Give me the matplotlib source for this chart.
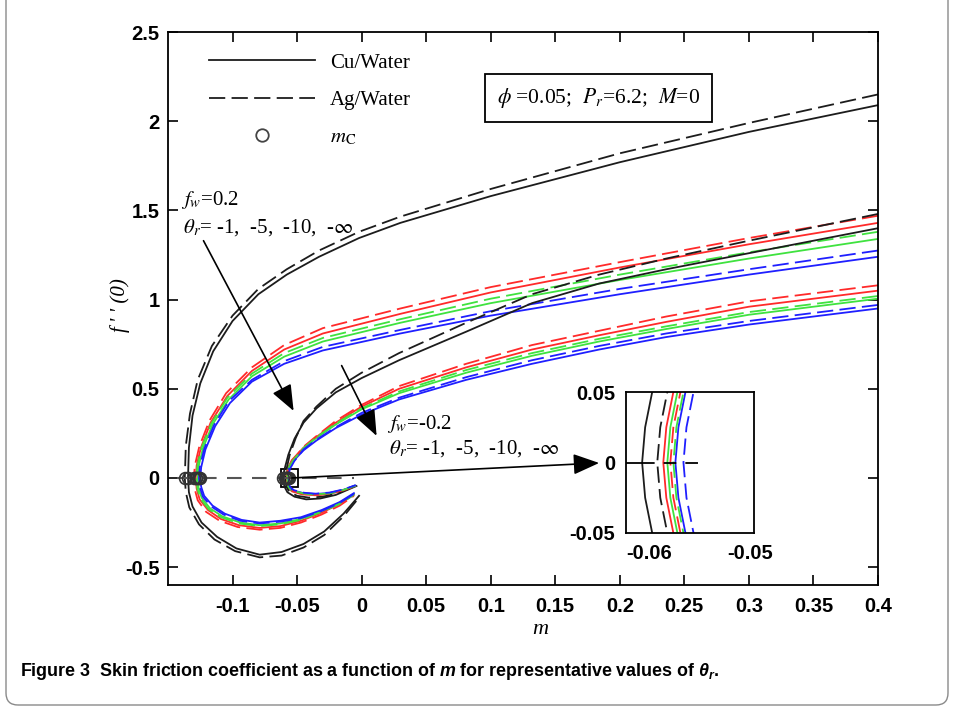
import numpy as np
import matplotlib
matplotlib.use("Agg")
import matplotlib.pyplot as plt
from matplotlib import font_manager
from matplotlib.lines import Line2D
from matplotlib.patches import Rectangle, FancyBboxPatch

# Datos: f''(0) frente a m
# Grupo A: fw = 0.2 (curvas exteriores), Grupo B: fw = -0.2 (curvas interiores)

# --- Grupo A, Cu/Water (linea continua) ---
cu_a_t1_m = [0.4, 0.3, 0.2, 0.1, 0.03, -0.002, -0.033, -0.058, -0.08, -0.1, -0.115, -0.125, -0.131, -0.1338,
             -0.1345, -0.1338, -0.131, -0.124, -0.112, -0.097, -0.079, -0.062, -0.045, -0.029, -0.014, -0.002]
cu_a_t1_f = [2.09, 1.94, 1.77, 1.58, 1.43, 1.345, 1.24, 1.14, 1.03, 0.88, 0.71, 0.53, 0.35, 0.17,
             0.0, -0.08, -0.16, -0.25, -0.33, -0.395, -0.43, -0.415, -0.37, -0.30, -0.20, -0.10]
cu_a_t5_m = [0.4, 0.3, 0.2, 0.1, 0.03, -0.03, -0.06, -0.085, -0.104, -0.117, -0.1245, -0.1278,
             -0.1285, -0.1278, -0.1255, -0.119, -0.109, -0.095, -0.079, -0.063, -0.047, -0.031, -0.017, -0.006]
cu_a_t5_f = [1.43, 1.31, 1.18, 1.04, 0.92, 0.81, 0.72, 0.60, 0.46, 0.31, 0.17, 0.07,
             0.0, -0.06, -0.12, -0.18, -0.23, -0.265, -0.28, -0.27, -0.24, -0.195, -0.145, -0.095]
cu_a_t10_m = [0.4, 0.3, 0.2, 0.1, 0.03, -0.03, -0.06, -0.085, -0.103, -0.1155, -0.123, -0.1263,
              -0.127, -0.1263, -0.124, -0.1175, -0.108, -0.094, -0.079, -0.063, -0.047, -0.031, -0.017, -0.006]
cu_a_t10_f = [1.34, 1.23, 1.11, 0.98, 0.87, 0.765, 0.68, 0.57, 0.44, 0.30, 0.165, 0.065,
              0.0, -0.055, -0.11, -0.17, -0.215, -0.25, -0.265, -0.255, -0.23, -0.185, -0.14, -0.09]
cu_a_tinf_m = [0.4, 0.3, 0.2, 0.1, 0.03, -0.03, -0.06, -0.085, -0.102, -0.1135, -0.121, -0.1243,
               -0.125, -0.1243, -0.122, -0.1155, -0.106, -0.093, -0.079, -0.063, -0.047, -0.031, -0.017, -0.006]
cu_a_tinf_f = [1.24, 1.14, 1.03, 0.91, 0.81, 0.715, 0.64, 0.54, 0.42, 0.29, 0.16, 0.06,
               0.0, -0.05, -0.10, -0.155, -0.20, -0.235, -0.25, -0.24, -0.22, -0.18, -0.135, -0.085]

# --- Grupo A, Ag/Water (linea discontinua) ---
ag_a_t1_m = [0.4, 0.3, 0.2, 0.1, 0.03, -0.002, -0.033, -0.058, -0.08, -0.1, -0.116, -0.127, -0.133, -0.1362,
             -0.137, -0.1362, -0.1335, -0.126, -0.114, -0.098, -0.079, -0.062, -0.045, -0.029, -0.014, -0.002]
ag_a_t1_f = [2.15, 1.99, 1.82, 1.62, 1.465, 1.38, 1.275, 1.17, 1.06, 0.91, 0.74, 0.55, 0.36, 0.18,
             0.0, -0.08, -0.165, -0.26, -0.345, -0.41, -0.445, -0.435, -0.39, -0.32, -0.215, -0.11]
ag_a_t5_m = [0.4, 0.3, 0.2, 0.1, 0.03, -0.03, -0.06, -0.085, -0.105, -0.118, -0.1258, -0.1292,
             -0.13, -0.1292, -0.127, -0.1205, -0.11, -0.096, -0.079, -0.063, -0.047, -0.031, -0.017, -0.006]
ag_a_t5_f = [1.47, 1.345, 1.21, 1.07, 0.95, 0.84, 0.745, 0.62, 0.475, 0.32, 0.175, 0.07,
             0.0, -0.065, -0.125, -0.19, -0.24, -0.275, -0.29, -0.28, -0.25, -0.205, -0.155, -0.10]
ag_a_t10_m = [0.4, 0.3, 0.2, 0.1, 0.03, -0.03, -0.06, -0.085, -0.104, -0.1165, -0.124, -0.1273,
              -0.128, -0.1273, -0.125, -0.1185, -0.109, -0.095, -0.079, -0.063, -0.047, -0.031, -0.017, -0.006]
ag_a_t10_f = [1.38, 1.265, 1.14, 1.005, 0.89, 0.785, 0.70, 0.585, 0.45, 0.305, 0.17, 0.067,
              0.0, -0.058, -0.115, -0.175, -0.22, -0.255, -0.27, -0.26, -0.235, -0.19, -0.145, -0.095]
ag_a_tinf_m = [0.4, 0.3, 0.2, 0.1, 0.03, -0.03, -0.06, -0.085, -0.103, -0.1145, -0.122, -0.1253,
               -0.126, -0.1253, -0.123, -0.1165, -0.107, -0.094, -0.079, -0.063, -0.047, -0.031, -0.017, -0.006]
ag_a_tinf_f = [1.275, 1.17, 1.06, 0.935, 0.83, 0.735, 0.655, 0.55, 0.43, 0.295, 0.162, 0.062,
               0.0, -0.052, -0.105, -0.16, -0.205, -0.24, -0.255, -0.245, -0.225, -0.185, -0.14, -0.09]

# --- Grupo B, Cu/Water ---
cu_b_t1_m = [0.4, 0.3, 0.236, 0.184, 0.132, 0.081, 0.029, 0.0, -0.02, -0.035, -0.045, -0.052, -0.0568, -0.0597, -0.0604,
             -0.0607, -0.0604, -0.0597, -0.0575, -0.052, -0.043, -0.032, -0.02, -0.004]
cu_b_t1_f = [1.40, 1.26, 1.17, 1.09, 0.98, 0.82, 0.66, 0.56, 0.48, 0.39, 0.31, 0.22, 0.13, 0.05, 0.025,
             0.0, -0.025, -0.05, -0.08, -0.105, -0.12, -0.115, -0.095, -0.045]
cu_b_t5_m = [0.4, 0.3, 0.236, 0.184, 0.132, 0.081, 0.029, 0.0, -0.02, -0.035, -0.045, -0.0541, -0.0576, -0.0583,
             -0.0586, -0.0583, -0.0576, -0.054, -0.046, -0.036, -0.025, -0.014, -0.005]
cu_b_t5_f = [1.05, 0.96, 0.875, 0.80, 0.72, 0.62, 0.50, 0.40, 0.31, 0.23, 0.17, 0.10, 0.05, 0.025,
             0.0, -0.025, -0.05, -0.075, -0.092, -0.097, -0.09, -0.07, -0.045]
cu_b_t10_m = [0.4, 0.3, 0.236, 0.184, 0.132, 0.081, 0.029, 0.0, -0.02, -0.035, -0.045, -0.0537, -0.0572, -0.0579,
              -0.0582, -0.0579, -0.0572, -0.0536, -0.0455, -0.036, -0.025, -0.014, -0.005]
cu_b_t10_f = [1.005, 0.915, 0.835, 0.765, 0.685, 0.59, 0.475, 0.385, 0.30, 0.225, 0.165, 0.098, 0.05, 0.025,
              0.0, -0.025, -0.05, -0.073, -0.088, -0.093, -0.087, -0.068, -0.044]
cu_b_tinf_m = [0.4, 0.3, 0.236, 0.184, 0.132, 0.081, 0.029, 0.0, -0.02, -0.035, -0.045, -0.0529, -0.0564, -0.0571,
               -0.0574, -0.0571, -0.0564, -0.053, -0.045, -0.036, -0.025, -0.014, -0.005]
cu_b_tinf_f = [0.95, 0.86, 0.79, 0.72, 0.64, 0.55, 0.44, 0.355, 0.28, 0.21, 0.155, 0.095, 0.05, 0.025,
               0.0, -0.025, -0.05, -0.07, -0.085, -0.09, -0.084, -0.066, -0.042]

# --- Grupo B, Ag/Water ---
ag_b_t1_m = [0.4, 0.3, 0.236, 0.184, 0.132, 0.081, 0.029, 0.0, -0.02, -0.035, -0.045, -0.051, -0.0557, -0.0582, -0.0589,
             -0.0592, -0.0589, -0.0582, -0.0558, -0.05, -0.041, -0.03, -0.018, -0.004]
ag_b_t1_f = [1.48, 1.33, 1.23, 1.14, 1.03, 0.87, 0.70, 0.59, 0.50, 0.40, 0.32, 0.225, 0.13, 0.05, 0.025,
             0.0, -0.025, -0.05, -0.08, -0.10, -0.11, -0.105, -0.085, -0.04]
ag_b_t5_m = [0.4, 0.3, 0.236, 0.184, 0.132, 0.081, 0.029, 0.0, -0.02, -0.035, -0.045, -0.0534, -0.0569, -0.0576,
             -0.0579, -0.0576, -0.0569, -0.0534, -0.0455, -0.036, -0.025, -0.014, -0.005]
ag_b_t5_f = [1.08, 0.99, 0.905, 0.825, 0.745, 0.64, 0.515, 0.41, 0.32, 0.235, 0.175, 0.10, 0.05, 0.025,
             0.0, -0.025, -0.05, -0.074, -0.09, -0.095, -0.088, -0.069, -0.045]
ag_b_t10_m = [0.4, 0.3, 0.236, 0.184, 0.132, 0.081, 0.029, 0.0, -0.02, -0.035, -0.045, -0.0531, -0.0566, -0.0573,
              -0.0576, -0.0573, -0.0566, -0.0532, -0.045, -0.036, -0.025, -0.014, -0.005]
ag_b_t10_f = [1.02, 0.93, 0.85, 0.78, 0.70, 0.605, 0.485, 0.39, 0.305, 0.228, 0.168, 0.098, 0.05, 0.025,
              0.0, -0.025, -0.05, -0.072, -0.087, -0.092, -0.086, -0.067, -0.043]
ag_b_tinf_m = [0.4, 0.3, 0.236, 0.184, 0.132, 0.081, 0.029, 0.0, -0.02, -0.035, -0.045, -0.0521, -0.0556, -0.0563,
               -0.0566, -0.0563, -0.0556, -0.0523, -0.0445, -0.0355, -0.025, -0.014, -0.005]
ag_b_tinf_f = [0.97, 0.88, 0.81, 0.74, 0.66, 0.565, 0.45, 0.365, 0.285, 0.215, 0.16, 0.095, 0.05, 0.025,
               0.0, -0.025, -0.05, -0.069, -0.083, -0.088, -0.082, -0.064, -0.041]

# linea de referencia f''(0) = 0
zero_m = [-0.143, -0.006]
inset_zero_solid_m = [-0.0623, -0.0607]
inset_zero_dash_m = [-0.0607, -0.0547]

x_ticks = [-0.1, -0.05, 0, 0.05, 0.1, 0.15, 0.2, 0.25, 0.3, 0.35, 0.4]
x_tick_labels = ["-0.1", "-0.05", "0", "0.05", "0.1", "0.15", "0.2", "0.25", "0.3", "0.35", "0.4"]
y_ticks = [-0.5, 0, 0.5, 1, 1.5, 2, 2.5]
y_tick_labels = ["-0.5", "0", "0.5", "1", "1.5", "2", "2.5"]
inset_x_ticks = [-0.06, -0.05]
inset_x_labels = ["-0.06", "-0.05"]
inset_y_ticks = [-0.05, 0, 0.05]
inset_y_labels = ["-0.05", "0", "0.05"]

theta_colors = {"t1": "#1c1c1c", "t5": "#ff2a2a", "t10": "#3fe23f", "tinf": "#1f1fff"}

curves = [
    (cu_a_t1_m, cu_a_t1_f, "t1", "-"), (cu_a_t5_m, cu_a_t5_f, "t5", "-"),
    (cu_a_t10_m, cu_a_t10_f, "t10", "-"), (cu_a_tinf_m, cu_a_tinf_f, "tinf", "-"),
    (ag_a_t1_m, ag_a_t1_f, "t1", "--"), (ag_a_t5_m, ag_a_t5_f, "t5", "--"),
    (ag_a_t10_m, ag_a_t10_f, "t10", "--"), (ag_a_tinf_m, ag_a_tinf_f, "tinf", "--"),
    (cu_b_t1_m, cu_b_t1_f, "t1", "-"), (cu_b_t5_m, cu_b_t5_f, "t5", "-"),
    (cu_b_t10_m, cu_b_t10_f, "t10", "-"), (cu_b_tinf_m, cu_b_tinf_f, "tinf", "-"),
    (ag_b_t1_m, ag_b_t1_f, "t1", "--"), (ag_b_t5_m, ag_b_t5_f, "t5", "--"),
    (ag_b_t10_m, ag_b_t10_f, "t10", "--"), (ag_b_tinf_m, ag_b_tinf_f, "tinf", "--"),
]

# fuentes
nombres = {f.name for f in font_manager.fontManager.ttflist}
narrow = "Liberation Sans Narrow" if "Liberation Sans Narrow" in nombres else "Liberation Sans"
plt.rcParams["mathtext.fontset"] = "stix"
serif = "Liberation Serif"
dash = (0, (9, 3.5))

fig = plt.figure(figsize=(9.55, 7.10), dpi=100)
ax = fig.add_axes([168 / 955, 1 - 585 / 710, 710 / 955, 553 / 710])

for m, f, th, ls in curves:
    ax.plot(m, f, color=theta_colors[th], lw=1.3, ls=ls if ls == "-" else dash)

ax.plot(zero_m, [0, 0], color="#555555", lw=1.5, ls=(0, (7, 5)))

# puntos criticos m_c (donde f''(0) = 0)
mc = [m[f.index(0.0)] for m, f, th, ls in curves]
ax.plot(mc, np.zeros(len(mc)), ls="none", marker="o", ms=8.5, mfc="none", mec="#333333", mew=1.2)

ax.add_patch(Rectangle((-0.0623, -0.05), 0.0127, 0.1, fill=False, ec="k", lw=1.3))

ax.set_xlim(-0.15, 0.4)
ax.set_ylim(-0.6, 2.5)
ax.set_xticks(x_ticks)
ax.set_xticklabels(x_tick_labels, fontweight="bold", family="Liberation Sans", fontsize=14.5)
ax.set_yticks(y_ticks)
ax.set_yticklabels(y_tick_labels, fontweight="bold", family="Liberation Sans", fontsize=14.5)
ax.tick_params(direction="in", top=True, right=True, length=7, width=1.2)
ax.tick_params(axis="x", pad=9)
ax.tick_params(axis="y", pad=6)
for s in ax.spines.values():
    s.set_linewidth(1.3)

# leyenda
handles = [Line2D([], [], color="#1c1c1c", lw=1.3),
           Line2D([], [], color="#1c1c1c", lw=1.3, ls=dash),
           Line2D([], [], ls="none", marker="o", ms=9, mfc="none", mec="#444444", mew=1.3)]
ax.legend(handles, ["Cu/Water", "Ag/Water", r"$m_\mathrm{C}$"], loc="upper left",
          bbox_to_anchor=(0.0577, 0.962), frameon=False, handlelength=5.1, handletextpad=0.7,
          labelspacing=0.85, borderpad=0, borderaxespad=0, prop={"family": serif, "size": 15})

ax.text(0.1837, 2.129, r"$\phi$ =0.05;  $P_r$=6.2;  $M$=0", ha="center", va="center",
        family=serif, fontsize=15.5,
        bbox=dict(boxstyle="square,pad=0.55", fc="white", ec="k", lw=1.3))

# anotaciones
ax.text(-0.1403, 1.556, r"$f_w$=0.2", family=serif, fontsize=15, ha="left", va="center")
ax.text(-0.138, 1.404, r"$\theta_r$= -1,  -5,  -10,  -$\infty$", family=serif, fontsize=15,
        ha="left", va="center")
ax.text(0.0194, 0.303, r"$f_w$=-0.2", family=serif, fontsize=15, ha="left", va="center")
ax.text(0.0209, 0.163, r"$\theta_r$= -1,  -5,  -10,  -$\infty$", family=serif, fontsize=15,
        ha="left", va="center")

flecha = dict(arrowstyle="-|>,head_length=0.8,head_width=0.32", color="k", lw=1.2,
              mutation_scale=20, shrinkA=0, shrinkB=0)
ax.annotate("", xy=(-0.0527, 0.376), xytext=(-0.1225, 1.33), arrowprops=flecha)
ax.annotate("", xy=(0.0116, 0.236), xytext=(-0.0155, 0.63), arrowprops=flecha)
ax.annotate("", xy=(0.184, 0.084), xytext=(-0.054, 0.0), arrowprops=flecha)

# ampliacion
axin = fig.add_axes([626 / 955, 1 - 533 / 710, 128 / 955, 141 / 710])
for m, f, th, ls in curves:
    axin.plot(m, f, color=theta_colors[th], lw=1.3, ls=ls if ls == "-" else dash)
axin.plot(inset_zero_solid_m, [0, 0], color="k", lw=1.3)
axin.plot(inset_zero_dash_m, [0, 0], color="k", lw=1.3, ls=(0, (7, 5)))
axin.set_xlim(-0.0623, -0.0496)
axin.set_ylim(-0.05, 0.05)
axin.set_xticks(inset_x_ticks)
axin.set_xticklabels(inset_x_labels, fontweight="bold", family="Liberation Sans", fontsize=14.5)
axin.set_yticks(inset_y_ticks)
axin.set_yticklabels(inset_y_labels, fontweight="bold", family="Liberation Sans", fontsize=14.5)
axin.tick_params(length=0, pad=8)
for s in axin.spines.values():
    s.set_linewidth(1.3)

# etiquetas de ejes
fig.text(120 / 955, 1 - 305 / 710, "f\u2009' ' (0)", rotation=90, family=serif, style="italic",
         fontsize=15, ha="center", va="center")
fig.text(540 / 955, 1 - 630 / 710, "m", family=serif, style="italic", fontsize=16,
         ha="center", va="center")

# pie de figura
plt.rcParams["mathtext.fontset"] = "custom"
plt.rcParams["mathtext.it"] = narrow + ":italic:bold"
plt.rcParams["mathtext.rm"] = narrow + ":bold"
fig.text(20 / 955, 1 - 672 / 710,
         r"Figure 3  Skin friction coefficient as a function of $m$ for representative values of $\theta_r$.",
         family=narrow, fontweight="bold", fontsize=12.9, ha="left", va="center", math_fontfamily="custom")

# marco redondeado
fig.add_artist(FancyBboxPatch((0.06, 0.05), 9.42, 7.6, boxstyle="round,pad=0,rounding_size=0.12",
                              transform=fig.dpi_scale_trans, fill=False, ec="#8a8a8a", lw=1.0))

fig.savefig("out.png", dpi=100)
